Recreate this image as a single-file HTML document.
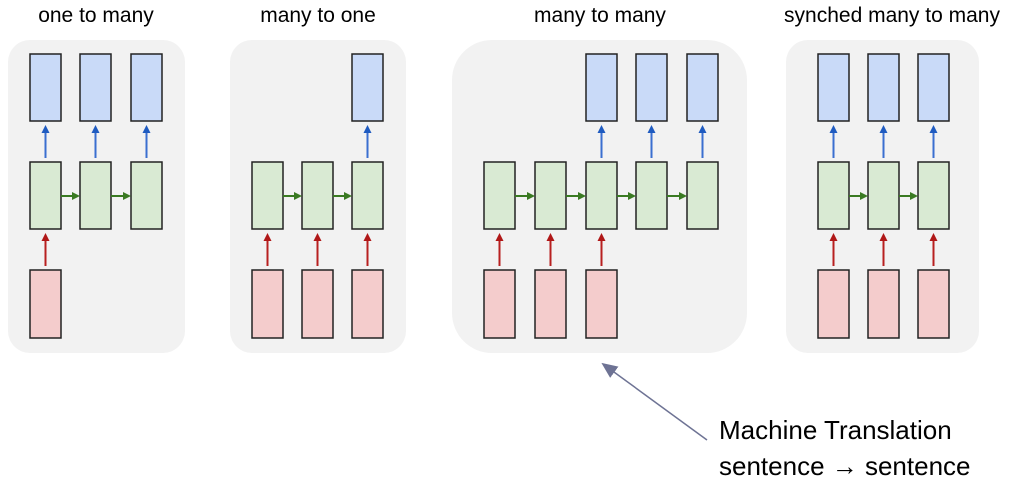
<!DOCTYPE html>
<html><head><style>body{margin:0;background:#fff}svg{display:block}</style></head><body>
<svg width="1023" height="502" xmlns="http://www.w3.org/2000/svg" font-family="Liberation Sans, sans-serif">
<defs>
<marker id="b" markerWidth="8" markerHeight="8" refX="6" refY="4" orient="auto" markerUnits="userSpaceOnUse"><path d="M0,0 L8,4 L0,8 Z" fill="#1f5bc0"/></marker>
<marker id="r" markerWidth="8" markerHeight="8" refX="6" refY="4" orient="auto" markerUnits="userSpaceOnUse"><path d="M0,0 L8,4 L0,8 Z" fill="#b01818"/></marker>
<marker id="g" markerWidth="8" markerHeight="8" refX="6" refY="4" orient="auto" markerUnits="userSpaceOnUse"><path d="M0,0 L8,4 L0,8 Z" fill="#3a7a22"/></marker>
<marker id="p" markerWidth="16" markerHeight="14" refX="14" refY="7" orient="auto" markerUnits="userSpaceOnUse"><path d="M0,0 L16,7 L0,14 Z" fill="#6e7394"/></marker>
</defs>
<g font-size="21" fill="#000" text-anchor="middle">
<text x="96" y="22">one to many</text>
<text x="318" y="22">many to one</text>
<text x="600" y="22">many to many</text>
<text x="892" y="22">synched many to many</text>
</g>
<rect x="8" y="40" width="177" height="313" rx="22" fill="#f2f2f2"/>
<rect x="230" y="40" width="176" height="313" rx="22" fill="#f2f2f2"/>
<rect x="452" y="40" width="295" height="313" rx="40" fill="#f2f2f2"/>
<rect x="786" y="40" width="193" height="313" rx="22" fill="#f2f2f2"/>
<g stroke="#222" stroke-width="1.5">
<!-- panel1 -->
<g fill="#c9daf8"><rect x="30" y="54" width="31" height="67"/><rect x="80" y="54" width="31" height="67"/><rect x="131" y="54" width="31" height="67"/></g>
<g fill="#d9ead3"><rect x="30" y="162" width="31" height="67"/><rect x="80" y="162" width="31" height="67"/><rect x="131" y="162" width="31" height="67"/></g>
<g fill="#f4cccc"><rect x="30" y="270" width="31" height="68"/></g>
<!-- panel2 -->
<g fill="#c9daf8"><rect x="352" y="54" width="31" height="67"/></g>
<g fill="#d9ead3"><rect x="252" y="162" width="31" height="67"/><rect x="302" y="162" width="31" height="67"/><rect x="352" y="162" width="31" height="67"/></g>
<g fill="#f4cccc"><rect x="252" y="270" width="31" height="68"/><rect x="302" y="270" width="31" height="68"/><rect x="352" y="270" width="31" height="68"/></g>
<!-- panel3 -->
<g fill="#c9daf8"><rect x="586" y="54" width="31" height="67"/><rect x="636" y="54" width="31" height="67"/><rect x="687" y="54" width="31" height="67"/></g>
<g fill="#d9ead3"><rect x="484" y="162" width="31" height="67"/><rect x="535" y="162" width="31" height="67"/><rect x="586" y="162" width="31" height="67"/><rect x="636" y="162" width="31" height="67"/><rect x="687" y="162" width="31" height="67"/></g>
<g fill="#f4cccc"><rect x="484" y="270" width="31" height="68"/><rect x="535" y="270" width="31" height="68"/><rect x="586" y="270" width="31" height="68"/></g>
<!-- panel4 -->
<g fill="#c9daf8"><rect x="818" y="54" width="31" height="67"/><rect x="868" y="54" width="31" height="67"/><rect x="918" y="54" width="31" height="67"/></g>
<g fill="#d9ead3"><rect x="818" y="162" width="31" height="67"/><rect x="868" y="162" width="31" height="67"/><rect x="918" y="162" width="31" height="67"/></g>
<g fill="#f4cccc"><rect x="818" y="270" width="31" height="68"/><rect x="868" y="270" width="31" height="68"/><rect x="918" y="270" width="31" height="68"/></g>
</g>
<!-- blue arrows -->
<g stroke="#3a6fd0" stroke-width="2" marker-end="url(#b)">
<line x1="45.5" y1="158" x2="45.5" y2="127"/><line x1="95.5" y1="158" x2="95.5" y2="127"/><line x1="146.5" y1="158" x2="146.5" y2="127"/>
<line x1="367.5" y1="158" x2="367.5" y2="127"/>
<line x1="601.5" y1="158" x2="601.5" y2="127"/><line x1="651.5" y1="158" x2="651.5" y2="127"/><line x1="702.5" y1="158" x2="702.5" y2="127"/>
<line x1="833.5" y1="158" x2="833.5" y2="127"/><line x1="883.5" y1="158" x2="883.5" y2="127"/><line x1="933.5" y1="158" x2="933.5" y2="127"/>
</g>
<!-- red arrows -->
<g stroke="#b82020" stroke-width="2" marker-end="url(#r)">
<line x1="45.5" y1="266" x2="45.5" y2="235"/>
<line x1="267.5" y1="266" x2="267.5" y2="235"/><line x1="317.5" y1="266" x2="317.5" y2="235"/><line x1="367.5" y1="266" x2="367.5" y2="235"/>
<line x1="499.5" y1="266" x2="499.5" y2="235"/><line x1="550.5" y1="266" x2="550.5" y2="235"/><line x1="601.5" y1="266" x2="601.5" y2="235"/>
<line x1="833.5" y1="266" x2="833.5" y2="235"/><line x1="883.5" y1="266" x2="883.5" y2="235"/><line x1="933.5" y1="266" x2="933.5" y2="235"/>
</g>
<!-- green arrows -->
<g stroke="#3a7a22" stroke-width="2" marker-end="url(#g)">
<line x1="61" y1="196" x2="78" y2="196"/><line x1="111" y1="196" x2="129" y2="196"/>
<line x1="283" y1="196" x2="300" y2="196"/><line x1="333" y1="196" x2="350" y2="196"/>
<line x1="515" y1="196" x2="533" y2="196"/><line x1="566" y1="196" x2="584" y2="196"/><line x1="617" y1="196" x2="634" y2="196"/><line x1="667" y1="196" x2="685" y2="196"/>
<line x1="849" y1="196" x2="866" y2="196"/><line x1="899" y1="196" x2="916" y2="196"/>
</g>
<line x1="707" y1="440" x2="603" y2="364" stroke="#6e7394" stroke-width="1.5" marker-end="url(#p)"/>
<g font-size="26" fill="#000">
<text x="719" y="439">Machine Translation</text>
<text x="719" y="475">sentence → sentence</text>
</g>
</svg>
</body></html>
